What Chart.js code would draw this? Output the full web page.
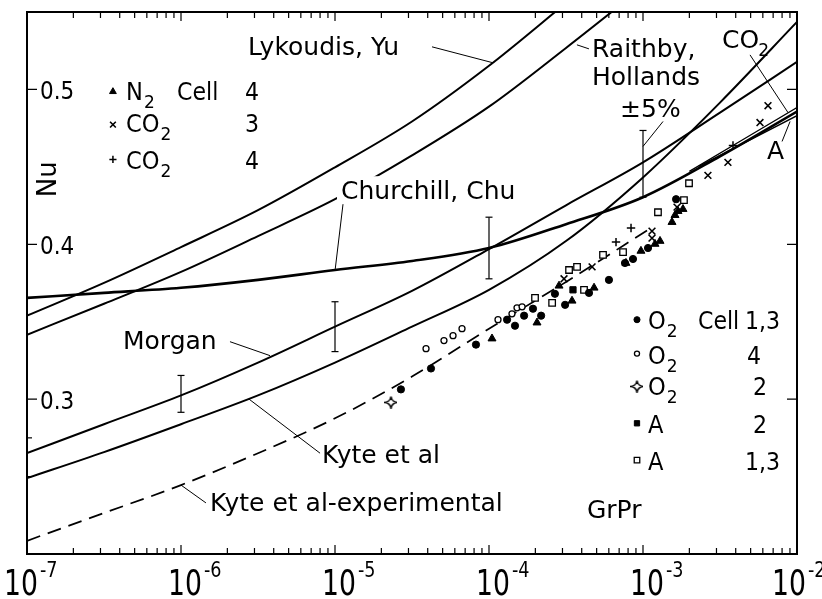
<!DOCTYPE html>
<html><head><meta charset="utf-8">
<script src="https://cdn.jsdelivr.net/npm/chart.js@4/dist/chart.umd.min.js"></script>
<style>html,body{margin:0;padding:0;background:#fff;}canvas{display:block;}</style>
</head><body>
<canvas id="c" width="822" height="599"></canvas>
<script>
// ---------------- data ----------------
const DECADES = [-7, -6, -5, -4, -3, -2];
const Y_TICKS = [0.3, 0.4, 0.5];
const Y_MINOR_LEFT = [0.25, 0.275];

// correlation curves, GrPr grid (half decades)
const GRPR_CURVE = [1e-7, 3.162e-7, 1e-6, 3.162e-6, 1e-5, 3.162e-5, 1e-4, 3.162e-4, 1e-3, 3.162e-3, 1e-2];
const NU_LYKOUDIS_YU = [0.3539, 0.3751, 0.3982, 0.4220, 0.4497, 0.4793, 0.5153, 0.5558, null, null, null];
const NU_RAITHBY_HOLLANDS = [0.3416, 0.3616, 0.3822, 0.4053, 0.4291, 0.4574, 0.4889, 0.5268, 0.5661, null, null];
const NU_MORGAN = [0.2651, 0.2838, 0.3024, 0.3236, 0.3468, 0.3699, 0.3969, 0.4252, 0.4529, 0.4850, 0.5178];
const NU_KYTE = [0.2490, 0.2658, 0.2838, 0.3024, 0.3236, 0.3468, 0.3706, 0.4021, 0.4432, 0.4915, 0.5436];
const NU_CHURCHILL_CHU = [0.3654, 0.3686, 0.3719, 0.3770, 0.3834, 0.3892, 0.3976, 0.4130, 0.4304, 0.4568, 0.4857];
const GRPR_KYTE_EXP = [1e-7, 3.162e-7, 1e-6, 3.162e-6, 1e-5, 3.162e-5, 1e-4, 3.162e-4, 1.15e-3];
const NU_KYTE_EXP = [0.2085, 0.2265, 0.2445, 0.2651, 0.2876, 0.3146, 0.3455, 0.3757, 0.4111];
const GRPR_CO2_CURVE = [2.0e-3, 1e-2];
const NU_CO2_CURVE = [0.4471, 0.4883];
const GRPR_A_CURVE = [2.3e-3, 1e-2];
const NU_A_CURVE = [0.4503, 0.4831];

// Raithby-Hollands +-5% bars
const ERR_GRPR = [1e-6, 1e-5, 1e-4, 1e-3];
const ERR_LOW = [0.2915, 0.3307, 0.3777, 0.4304];
const ERR_HIGH = [0.3153, 0.3629, 0.4175, 0.4735];

// measurements
const O2_CELL13_X = [2.68e-5, 4.20e-5, 8.23e-5, 1.31e-4, 1.475e-4, 1.69e-4, 1.93e-4, 2.18e-4, 2.68e-4, 3.12e-4, 4.46e-4, 6.01e-4, 7.64e-4, 8.61e-4, 1.078e-3, 1.64e-3];
const O2_CELL13_NU = [0.3063, 0.3198, 0.3352, 0.3513, 0.3474, 0.3539, 0.3584, 0.3539, 0.3680, 0.3609, 0.3686, 0.3770, 0.3879, 0.3905, 0.3976, 0.4291];
const O2_CELL4_X = [3.90e-5, 5.10e-5, 5.84e-5, 6.68e-5, 1.144e-4, 1.41e-4, 1.52e-4, 1.64e-4];
const O2_CELL4_NU = [0.3326, 0.3378, 0.3410, 0.3455, 0.3513, 0.3551, 0.3590, 0.3596];
const O2_CELL2_X = [2.31e-5];
const O2_CELL2_NU = [0.2979];
const N2_CELL4_X = [1.046e-4, 2.05e-4, 2.85e-4, 3.46e-4, 4.81e-4, 7.75e-4, 9.70e-4, 1.197e-3, 1.29e-3, 1.543e-3, 1.614e-3, 1.688e-3, 1.818e-3];
const N2_CELL4_NU = [0.3391, 0.3494, 0.3732, 0.3635, 0.3719, 0.3879, 0.3957, 0.4002, 0.4021, 0.4143, 0.4188, 0.4214, 0.4227];
const CO2_CELL3_X = [3.07e-4, 4.67e-4, 1.144e-3, 1.144e-3, 1.663e-3, 2.64e-3, 3.56e-3, 5.75e-3, 6.48e-3];
const CO2_CELL3_NU = [0.3777, 0.3854, 0.4085, 0.4040, 0.4240, 0.4445, 0.4529, 0.4786, 0.4895];
const CO2_CELL4_X = [6.68e-4, 8.36e-4, 3.84e-3];
const CO2_CELL4_NU = [0.4014, 0.4105, 0.4638];
const A_CELL2_X = [3.51e-4];
const A_CELL2_NU = [0.3706];
const A_CELL13_X = [1.99e-4, 2.57e-4, 3.31e-4, 3.73e-4, 4.14e-4, 5.50e-4, 7.42e-4, 1.251e-3, 1.845e-3, 1.99e-3];
const A_CELL13_NU = [0.3654, 0.3622, 0.3834, 0.3854, 0.3706, 0.3931, 0.3950, 0.4207, 0.4285, 0.4394];

// ---------------- annotations (in log10(GrPr), Nu) ----------------
const LABELS = [
  {t: 'Lykoudis, Yu', lx: -5.565, nu: 0.5223},
  {t: 'Raithby,', lx: -3.331, nu: 0.5211},
  {t: 'Hollands', lx: -3.331, nu: 0.5031},
  {t: '±5%', lx: -3.149, nu: 0.4825},
  {t: 'CO', sub: '2', lx: -2.487, nu: 0.5268},
  {t: 'A', lx: -2.195, nu: 0.4548},
  {t: 'Churchill, Chu', lx: -4.961, nu: 0.4291, box: true},
  {t: 'Morgan', lx: -6.377, nu: 0.3326},
  {t: 'Kyte et al', lx: -5.084, nu: 0.2587},
  {t: 'Kyte et al-experimental', lx: -5.812, nu: 0.2278},
  {t: 'GrPr', lx: -3.364, nu: 0.2233}
];
const LEADERS = [
  [-4.370, 0.5275, -3.974, 0.5172],
  [-3.429, 0.5288, -3.351, 0.5262],
  [-2.870, 0.4793, -3.000, 0.4632],
  [-2.305, 0.5223, -2.058, 0.4850],
  [-2.097, 0.4664, -2.045, 0.4793],
  [-4.948, 0.4259, -5.000, 0.3828],
  [-5.682, 0.3371, -5.422, 0.3281],
  [-5.558, 0.3000, -5.097, 0.2651],
  [-6.000, 0.2445, -5.838, 0.2330]
];
// legend rows: dataset label, marker pos, gas text pos, cell number
const LEGEND = [
  {ds: 'N2 cell 4', mlx: -6.442, mnu: 0.4986, gas: 'N', tlx: -6.357, tnu: 0.4934, cell: 'Cell', clx: -6.026, num: '4', nlx: -5.584},
  {ds: 'CO2 cell 3', mlx: -6.442, mnu: 0.4773, gas: 'CO', tlx: -6.357, tnu: 0.4722, num: '3', nlx: -5.584},
  {ds: 'CO2 cell 4', mlx: -6.442, mnu: 0.4548, gas: 'CO', tlx: -6.357, tnu: 0.4484, num: '4', nlx: -5.584},
  {ds: 'O2 cell 1,3', mlx: -3.039, mnu: 0.3513, gas: 'O', tlx: -2.968, tnu: 0.3455, cell: 'Cell', clx: -2.643, num: '1,3', nlx: -2.338},
  {ds: 'O2 cell 4', mlx: -3.039, mnu: 0.3294, gas: 'O', tlx: -2.968, tnu: 0.3230, num: '4', nlx: -2.325},
  {ds: 'O2 cell 2', mlx: -3.039, mnu: 0.3082, gas: 'O', tlx: -2.968, tnu: 0.3024, num: '2', nlx: -2.286},
  {ds: 'A cell 2', mlx: -3.039, mnu: 0.2844, gas: 'A', nosub: true, tlx: -2.968, tnu: 0.2780, num: '2', nlx: -2.286},
  {ds: 'A cell 1,3', mlx: -3.039, mnu: 0.2606, gas: 'A', nosub: true, tlx: -2.968, tnu: 0.2542, num: '1,3', nlx: -2.338}
];

// ---------------- build ----------------
const FONT = '"DejaVu Sans", "Liberation Sans", sans-serif';
const zip = (xs, ys) => xs.map((v, i) => ({x: v, y: ys[i]}));

const starCanvas = (() => {
  const c = document.createElement('canvas'); c.width = 13; c.height = 13;
  const g = c.getContext('2d');
  g.strokeStyle = '#000'; g.lineWidth = 1.5;
  g.beginPath();
  g.moveTo(6.5, 0.5);
  g.quadraticCurveTo(7.3, 5.7, 12.5, 6.5);
  g.quadraticCurveTo(7.3, 7.3, 6.5, 12.5);
  g.quadraticCurveTo(5.7, 7.3, 0.5, 6.5);
  g.quadraticCurveTo(5.7, 5.7, 6.5, 0.5);
  g.stroke();
  return c;
})();

function curve(label, xs, ys, w, dash) {
  return {label, data: zip(xs, ys), showLine: true, borderColor: '#000', borderWidth: w,
    borderDash: dash || [], pointRadius: 0, cubicInterpolationMode: 'monotone', clip: 0, order: 3};
}
function pts(label, xs, ys, style, r, fill, bw) {
  return {label, data: zip(xs, ys), showLine: false, pointStyle: style, pointRadius: r,
    pointBackgroundColor: fill, pointBorderColor: '#000', pointBorderWidth: bw, order: 1};
}

const datasets = [
  curve('Lykoudis, Yu', GRPR_CURVE, NU_LYKOUDIS_YU, 2),
  curve('Raithby, Hollands', GRPR_CURVE, NU_RAITHBY_HOLLANDS, 2),
  curve('Morgan', GRPR_CURVE, NU_MORGAN, 2),
  curve('Kyte et al', GRPR_CURVE, NU_KYTE, 2),
  curve('Churchill, Chu', GRPR_CURVE, NU_CHURCHILL_CHU, 2.6),
  curve('Kyte et al-experimental', GRPR_KYTE_EXP, NU_KYTE_EXP, 1.7, [14, 8]),
  curve('CO2', GRPR_CO2_CURVE, NU_CO2_CURVE, 1.4),
  curve('A', GRPR_A_CURVE, NU_A_CURVE, 1.4),
  pts('O2 cell 1,3', O2_CELL13_X, O2_CELL13_NU, 'circle', 3.6, '#000', 1),
  pts('O2 cell 4', O2_CELL4_X, O2_CELL4_NU, 'circle', 3, '#fff', 1.3),
  pts('O2 cell 2', O2_CELL2_X, O2_CELL2_NU, starCanvas, 6, '#fff', 1.3),
  pts('N2 cell 4', N2_CELL4_X, N2_CELL4_NU, 'triangle', 4.6, '#000', 1),
  pts('CO2 cell 3', CO2_CELL3_X, CO2_CELL3_NU, 'crossRot', 4.8, '#000', 1.6),
  pts('CO2 cell 4', CO2_CELL4_X, CO2_CELL4_NU, 'cross', 4.2, '#000', 1.5),
  pts('A cell 2', A_CELL2_X, A_CELL2_NU, 'rect', 4.4, '#000', 1),
  pts('A cell 1,3', A_CELL13_X, A_CELL13_NU, 'rect', 4.6, '#fff', 1.3)
];
ERR_GRPR.forEach((g, i) => {
  datasets.push({label: '±5% bar', data: [{x: g, y: ERR_LOW[i]}, {x: g, y: ERR_HIGH[i]}], showLine: true,
    borderColor: '#000', borderWidth: 1.2, pointStyle: 'line', pointRadius: 3.5,
    pointBorderColor: '#000', pointBorderWidth: 1.2, order: 2});
});

function text(ctx, s, x, y, size, sx) {
  ctx.save();
  ctx.font = size + 'px ' + FONT;
  ctx.textAlign = 'left'; ctx.textBaseline = 'alphabetic';
  ctx.translate(x, y); ctx.scale(sx || 1, 1);
  ctx.fillText(s, 0, 0);
  const w = ctx.measureText(s).width * (sx || 1);
  ctx.restore();
  return w;
}
function textWidth(ctx, s, size, sx) {
  ctx.save(); ctx.font = size + 'px ' + FONT;
  const w = ctx.measureText(s).width * (sx || 1); ctx.restore(); return w;
}

const frame = {
  id: 'frame',
  afterDatasetsDraw(chart) {
    const {ctx, chartArea: a, scales: {x, y}} = chart;
    const X = lx => x.getPixelForValue(Math.pow(10, lx));
    const Y = v => y.getPixelForValue(v);
    ctx.save();
    ctx.fillStyle = '#000'; ctx.strokeStyle = '#000';

    // labels
    LABELS.forEach(L => {
      const px = X(L.lx), py = Y(L.nu), size = 25;
      if (L.box) {
        const w = textWidth(ctx, L.t, size);
        ctx.fillStyle = '#fff';
        ctx.fillRect(px - 4, py - 23, w + 6, 28);
        ctx.fillStyle = '#000';
      }
      const w = text(ctx, L.t, px, py, size);
      if (L.sub) text(ctx, L.sub, px + w - 1, py + 8, 17);
    });
    // Nu axis title
    ctx.save();
    ctx.translate(X(-6.857), Y(0.442));
    ctx.rotate(-Math.PI / 2);
    ctx.font = '26px ' + FONT; ctx.textAlign = 'center'; ctx.textBaseline = 'middle';
    ctx.fillText('Nu', 0, 0);
    ctx.restore();

    // leaders
    ctx.lineWidth = 1;
    LEADERS.forEach(l => {
      ctx.beginPath(); ctx.moveTo(X(l[0]), Y(l[1])); ctx.lineTo(X(l[2]), Y(l[3])); ctx.stroke();
    });

    // legends
    LEGEND.forEach(r => {
      const dsi = chart.data.datasets.findIndex(d => d.label === r.ds);
      const ds = chart.data.datasets[dsi];
      ctx.save();
      ctx.fillStyle = ds.pointBackgroundColor; ctx.strokeStyle = '#000';
      ctx.lineWidth = ds.pointBorderWidth;
      Chart.helpers.drawPoint(ctx, {pointStyle: ds.pointStyle, radius: ds.pointRadius * 0.85, rotation: 0,
        borderWidth: ds.pointBorderWidth}, X(r.mlx), Y(r.mnu));
      ctx.restore();
      const tx = X(r.tlx), ty = Y(r.tnu);
      const w = text(ctx, r.gas, tx, ty, 24, 0.94);
      if (!r.nosub) text(ctx, '2', tx + w + 1, ty + 8, 17);
      if (r.cell) text(ctx, r.cell, X(r.clx), ty, 24, 0.92);
      text(ctx, r.num, X(r.nlx), ty, 24, 0.92);
    });

    // frame
    ctx.lineWidth = 2;
    ctx.strokeRect(a.left, a.top, a.right - a.left, a.bottom - a.top);
    // x ticks (top & bottom, inward)
    ctx.lineWidth = 1.2;
    DECADES.forEach((e, i) => {
      for (let m = 1; m <= 9; m++) {
        if (i === DECADES.length - 1 && m > 1) break;
        const px = x.getPixelForValue(m * Math.pow(10, e));
        const len = m === 1 ? 9 : 6;
        ctx.beginPath();
        ctx.moveTo(px, a.bottom); ctx.lineTo(px, a.bottom - len);
        ctx.moveTo(px, a.top); ctx.lineTo(px, a.top + len);
        ctx.stroke();
      }
    });
    // y ticks
    Y_TICKS.forEach(v => {
      const py = y.getPixelForValue(v);
      ctx.beginPath();
      ctx.moveTo(a.left, py); ctx.lineTo(a.left + 10, py);
      ctx.moveTo(a.right, py); ctx.lineTo(a.right - 10, py);
      ctx.stroke();
      text(ctx, v.toFixed(1), a.left + 13, py + 10, 25, 0.86);
    });
    Y_MINOR_LEFT.forEach(v => {
      const py = y.getPixelForValue(v);
      ctx.beginPath(); ctx.moveTo(a.left, py); ctx.lineTo(a.left + 5, py); ctx.stroke();
    });
    // x tick labels 10^e
    DECADES.forEach((e, i) => {
      const px = x.getPixelForValue(Math.pow(10, e));
      const off = i === 0 ? -6 : (i === DECADES.length - 1 ? -8 : 4);
      const w10 = textWidth(ctx, '10', 36, 0.74);
      const left = px + off - w10 / 2;
      text(ctx, '10', left, a.bottom + 41, 36, 0.74);
      text(ctx, '-' + (-e), left + w10 + 2, a.bottom + 23, 22, 0.8);
    });
    ctx.restore();
  }
};

new Chart(document.getElementById('c'), {
  type: 'scatter',
  data: {datasets},
  options: {
    responsive: false, animation: false, devicePixelRatio: 1,
    layout: {padding: {left: 27, top: 12, right: 25, bottom: 45}},
    plugins: {legend: {display: false}, tooltip: {enabled: false}},
    scales: {
      x: {type: 'logarithmic', min: 1e-7, max: 1e-2, display: false},
      y: {type: 'linear', min: 0.2, max: 0.55, display: false}
    }
  },
  plugins: [frame]
});
</script>
</body></html>
